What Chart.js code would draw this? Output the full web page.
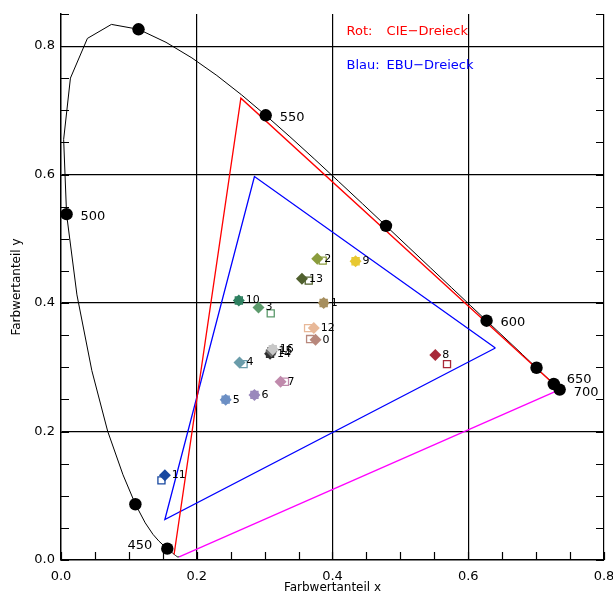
<!DOCTYPE html>
<html>
<head>
<meta charset="utf-8">
<script src="https://cdn.jsdelivr.net/npm/chart.js@4/dist/chart.umd.min.js"></script>
<style>
  html, body { margin: 0; padding: 0; background: #ffffff; }
  #c { display: block; }
</style>
</head>
<body>
<canvas id="c" width="613" height="598"></canvas>
<script>
// ---- Spectral locus (CIE 1931, 5 nm steps) ----
const locusNm = [380,385,390,395,400,405,410,415,420,425,430,435,440,445,450,455,460,465,470,475,480,485,490,495,500,505,510,515,520,525,530,535,540,545,550,555,560,565,570,575,580,585,590,595,600,605,610,615,620,625,630,635,640,645,650,655,660,665,670,675,680,685,690,695,700];
const locusX = [0.1741,0.1740,0.1738,0.1736,0.1733,0.1730,0.1726,0.1721,0.1714,0.1703,0.1689,0.1669,0.1644,0.1611,0.1566,0.1510,0.1440,0.1355,0.1241,0.1096,0.0913,0.0687,0.0454,0.0235,0.0082,0.0039,0.0139,0.0389,0.0743,0.1142,0.1547,0.1929,0.2296,0.2658,0.3016,0.3373,0.3731,0.4087,0.4441,0.4788,0.5125,0.5448,0.5752,0.6029,0.6270,0.6482,0.6658,0.6801,0.6915,0.7006,0.7079,0.7140,0.7190,0.7230,0.7260,0.7283,0.7300,0.7311,0.7320,0.7327,0.7334,0.7340,0.7344,0.7346,0.7347];
const locusY = [0.0050,0.0050,0.0049,0.0049,0.0048,0.0048,0.0048,0.0048,0.0051,0.0058,0.0069,0.0086,0.0109,0.0138,0.0177,0.0227,0.0297,0.0399,0.0578,0.0868,0.1327,0.2007,0.2950,0.4127,0.5384,0.6548,0.7502,0.8120,0.8338,0.8262,0.8059,0.7816,0.7543,0.7243,0.6923,0.6589,0.6245,0.5896,0.5547,0.5202,0.4866,0.4544,0.4242,0.3965,0.3725,0.3514,0.3340,0.3197,0.3083,0.2993,0.2920,0.2859,0.2809,0.2770,0.2740,0.2717,0.2700,0.2689,0.2680,0.2673,0.2666,0.2660,0.2656,0.2654,0.2653];

// marked wavelengths (black dots) and their labels
const markNm = [450,475,500,525,550,575,600,625,650,700];
const markText = ['450','','500','','550','','600','','650','700'];

// purple line
const purpleX = [0.1741, 0.7347];
const purpleY = [0.0050, 0.2653];

// CIE triangle (red) and EBU triangle (blue)
const cieX = [0.7347, 0.2650, 0.1666];
const cieY = [0.2653, 0.7190, 0.0089];
const ebuX = [0.64, 0.285, 0.153, 0.64];
const ebuY = [0.33, 0.597, 0.063, 0.33];

// colour samples: diamonds and open squares
const sampleIds = ['0','1','2','3','4','5','6','7','8','9','10','11','12','13','14','15','16'];
const sampleX = [0.375,0.387,0.3775,0.291,0.263,0.2426,0.285,0.3235,0.5515,0.434,0.262,0.153,0.3725,0.355,0.308,0.310,0.312];
const sampleY = [0.343,0.400,0.469,0.393,0.3075,0.2496,0.257,0.2775,0.319,0.465,0.404,0.132,0.361,0.438,0.321,0.325,0.328];
const refX = [0.367,0.387,0.3856,0.309,0.269,0.2426,0.285,0.330,0.5687,0.434,0.262,0.148,0.364,0.365,0.308,0.310,0.312];
const refY = [0.344,0.400,0.466,0.384,0.305,0.2496,0.257,0.2775,0.305,0.465,0.404,0.124,0.361,0.435,0.321,0.325,0.328];
const sampleColors = ['#b8887c','#a68e5e','#8a9c3c','#5c9a6c','#6a9caa','#6c8fc4','#9a88bc','#c08aac','#a82838','#e8c830','#2e8060','#1848a0','#e8b898','#50602e','#303030','#707070','#c8c8c8'];

// axes
const xMin = 0, xMax = 0.8, yMin = 0, yMax = 0.85;
const tickStep = 0.05, majorStep = 0.2;

// legend texts
const legendItems = [
  {head: 'Rot:', text: 'CIE\u2212Dreieck', color: '#ff0000', x: 0.4207, y: 0.822},
  {head: 'Blau:', text: 'EBU\u2212Dreieck', color: '#0000ff', x: 0.4207, y: 0.769}
];

// ---- build ----
const pts = (xs, ys) => xs.map((v, i) => ({x: v, y: ys[i]}));
const markX = markNm.map(n => locusX[locusNm.indexOf(n)]);
const markY = markNm.map(n => locusY[locusNm.indexOf(n)]);
const isMajor = v => Math.abs(v / majorStep - Math.round(v / majorStep)) < 1e-6;
const FONT = 'DejaVu Sans';

const lineDs = (label, xs, ys, color, w) => ({
  label, data: pts(xs, ys), showLine: true, borderColor: color, borderWidth: w,
  pointRadius: 0, fill: false, tension: 0
});

const datasets = [
  { label: 'marks', data: pts(markX, markY), pointStyle: 'circle', pointRadius: 6.2,
    backgroundColor: '#000', borderColor: '#000', borderWidth: 0, showLine: false },
  { label: 'samples', data: pts(sampleX, sampleY), pointStyle: 'rectRot', pointRadius: 6,
    backgroundColor: sampleColors, borderColor: sampleColors, borderWidth: 0, showLine: false },
  { label: 'refs', data: pts(refX, refY), pointStyle: 'rect', pointRadius: 5,
    backgroundColor: '#ffffff', borderColor: sampleColors, borderWidth: 1.3, showLine: false },
  lineDs('CIE', cieX, cieY, '#ff0000', 1.3),
  lineDs('EBU', ebuX, ebuY, '#0000ff', 1.3),
  lineDs('locus', locusX, locusY, '#000000', 1),
  lineDs('purple', purpleX, purpleY, '#ff00ff', 1.3)
];
datasets.forEach((d, i) => d.order = i);

const decor = {
  id: 'decor',
  beforeDatasetsDraw(chart) {
    const {ctx, chartArea: a, scales: {x, y}} = chart;
    ctx.save();
    ctx.strokeStyle = '#000';
    ctx.lineWidth = 1.2;
    const L = 8;
    ctx.beginPath();
    for (let v = xMin; v <= xMax + 1e-9; v += tickStep) {
      const px = Math.round(x.getPixelForValue(v)) + 0.5;
      ctx.moveTo(px, a.bottom); ctx.lineTo(px, a.bottom - L);
    }
    for (let v = yMin; v <= yMax + 1e-9; v += tickStep) {
      const py = Math.round(y.getPixelForValue(v)) + 0.5;
      ctx.moveTo(a.left, py); ctx.lineTo(a.left + L, py);
      ctx.moveTo(a.right, py); ctx.lineTo(a.right - L, py);
    }
    ctx.stroke();
    ctx.restore();
  },
  afterDatasetsDraw(chart) {
    const {ctx, scales: {x, y}} = chart;
    ctx.save();
    ctx.textBaseline = 'middle';
    // wavelength labels
    ctx.font = '13px "' + FONT + '"';
    ctx.fillStyle = '#000';
    const off = {450: [-15, -3, 'right'], 500: [14, 2, 'left'], 550: [14, 2, 'left'],
                 600: [14, 2, 'left'], 650: [13, -4, 'left'], 700: [14, 3, 'left']};
    markNm.forEach((n, i) => {
      if (!markText[i]) return;
      const o = off[n];
      ctx.textAlign = o[2];
      ctx.fillText(markText[i], x.getPixelForValue(markX[i]) + o[0], y.getPixelForValue(markY[i]) + o[1]);
    });
    // sample numbers
    ctx.font = '11px "' + FONT + '"';
    ctx.textAlign = 'left';
    sampleIds.forEach((t, i) => {
      ctx.fillText(t, x.getPixelForValue(sampleX[i]) + 7, y.getPixelForValue(sampleY[i]));
    });
    // legend
    ctx.font = '13px "' + FONT + '"';
    legendItems.forEach(it => {
      ctx.fillStyle = it.color;
      const px = x.getPixelForValue(it.x), py = y.getPixelForValue(it.y);
      ctx.fillText(it.head, px, py);
      ctx.fillText(it.text, px + 40, py);
    });
    ctx.restore();
  }
};

new Chart(document.getElementById('c'), {
  type: 'scatter',
  data: { datasets },
  options: {
    responsive: false,
    animation: false,
    layout: { padding: { left: 0, right: 9, top: 14, bottom: 0 } },
    plugins: { legend: { display: false }, tooltip: { enabled: false } },
    scales: {
      x: {
        type: 'linear', min: xMin, max: xMax,
        ticks: { stepSize: tickStep, autoSkip: false, maxRotation: 0, padding: 9, color: '#000',
                 font: { family: FONT, size: 13 },
                 callback: v => isMajor(v) ? v.toFixed(1) : '' },
        grid: { drawTicks: false, lineWidth: 1.2,
                color: c => (c.tick && isMajor(c.tick.value) && c.tick.value > 1e-6) ? '#000' : 'rgba(0,0,0,0)' },
        border: { display: true, color: '#000', width: 1.5 },
        title: { display: true, text: 'Farbwertanteil x', color: '#000',
                 font: { family: FONT, size: 12 }, padding: { top: 0, bottom: 3 } },
        afterFit: s => { s.height = 38; s.paddingRight = 0; }
      },
      y: {
        type: 'linear', min: yMin, max: yMax,
        ticks: { stepSize: tickStep, autoSkip: false, padding: 6, color: '#000',
                 font: { family: FONT, size: 13 },
                 callback: v => (isMajor(v) && v <= 0.8 + 1e-6) ? v.toFixed(1) : '' },
        grid: { drawTicks: false, lineWidth: 1.2,
                color: c => (c.tick && isMajor(c.tick.value) && c.tick.value > 1e-6 && c.tick.value < 0.84) ? '#000' : 'rgba(0,0,0,0)' },
        border: { display: true, color: '#000', width: 1.5 },
        title: { display: true, text: 'Farbwertanteil y', color: '#000',
                 font: { family: FONT, size: 12 }, padding: { top: 10, bottom: 0 } },
        afterFit: s => { s.width = 61; }
      }
    }
  },
  plugins: [decor]
});
</script>
</body>
</html>
